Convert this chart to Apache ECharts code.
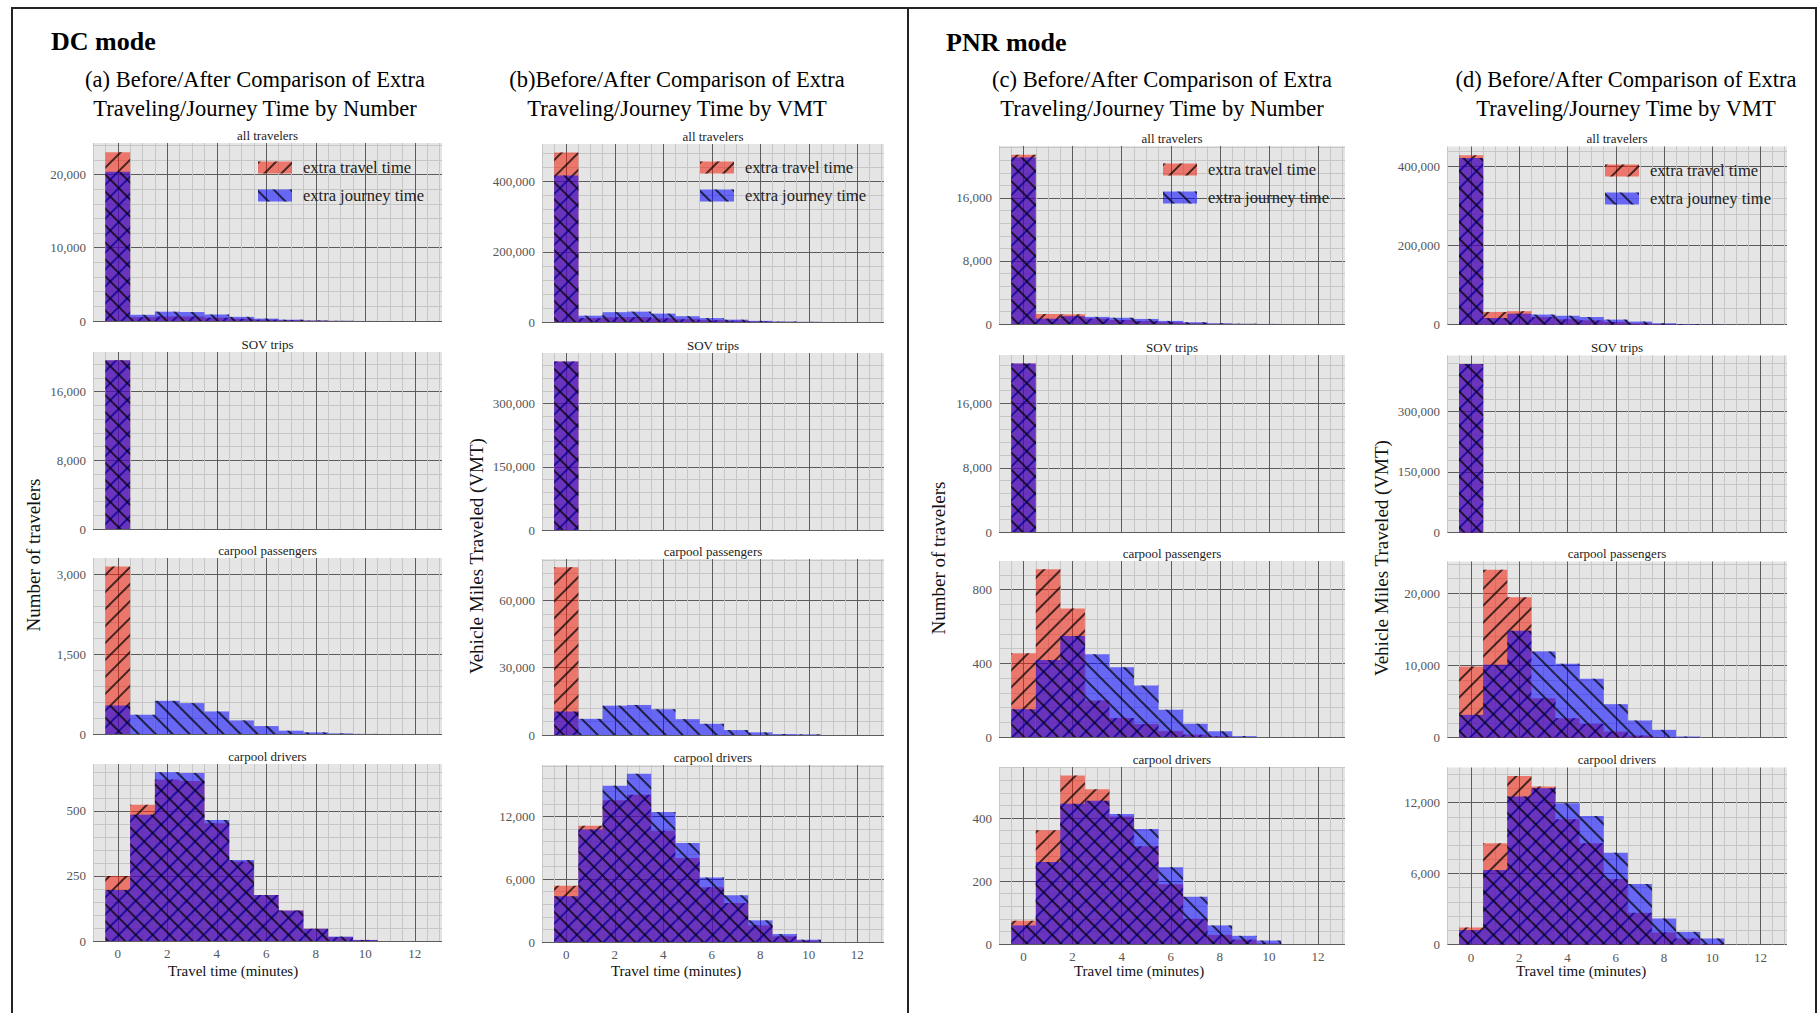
<!DOCTYPE html>
<html><head><meta charset="utf-8">
<script src="https://cdn.jsdelivr.net/npm/echarts@6/dist/echarts.min.js"></script>
<style>html,body{margin:0;padding:0;background:#fff}#chart{width:1820px;height:1013px}</style>
</head><body><div id="chart"></div>
<script>
// ---------- text ----------
const modeTitles = ['DC mode', 'PNR mode'];
const panelTitles = [
  '(a) Before/After Comparison of Extra\nTraveling/Journey Time by Number',
  '(b)Before/After Comparison of Extra\nTraveling/Journey Time by VMT',
  '(c) Before/After Comparison of Extra\nTraveling/Journey Time by Number',
  '(d) Before/After Comparison of Extra\nTraveling/Journey Time by VMT'
];
const rowTitles = ['all travelers', 'SOV trips', 'carpool passengers', 'carpool drivers'];
const yAxisTitles = ['Number of travelers', 'Vehicle Miles Traveled (VMT)', 'Number of travelers', 'Vehicle Miles Traveled (VMT)'];
const xAxisTitle = 'Travel time (minutes)';
const legendNames = ['extra travel time', 'extra journey time'];

// ---------- data (bins = travel time in minutes) ----------
const bins = [0, 1, 2, 3, 4, 5, 6, 7, 8, 9, 10];
const xTickLabels = [0, 2, 4, 6, 8, 10, 12];

// (a) DC mode, by number
const dcNumAllTravel   = [23030, 523, 620, 615, 452, 305, 177, 117, 47, 15, 4];
const dcNumAllJourney  = [20370, 846, 1270, 1224, 888, 566, 326, 179, 78, 29, 6];
const dcNumSovTravel   = [19640, 0, 0, 0, 0, 0, 0, 0, 0, 0, 0];
const dcNumSovJourney  = [19640, 0, 0, 0, 0, 0, 0, 0, 0, 0, 0];
const dcNumPassTravel  = [3140, 0, 0, 0, 0, 0, 0, 0, 0, 0, 0];
const dcNumPassJourney = [535, 361, 622, 579, 423, 255, 149, 62, 31, 12, 2];
const dcNumDrvTravel   = [250, 523, 620, 615, 452, 305, 177, 117, 47, 15, 4];
const dcNumDrvJourney  = [196, 485, 648, 645, 465, 311, 177, 117, 47, 17, 4];

// (b) DC mode, by VMT
const dcVmtAllTravel   = [483000, 11110, 13530, 14070, 10630, 8020, 5220, 3720, 1590, 540, 130];
const dcVmtAllJourney  = [417000, 17930, 28010, 29450, 23880, 16510, 11170, 6660, 3250, 1200, 510];
const dcVmtSovTravel   = [400000, 0, 0, 0, 0, 0, 0, 0, 0, 0, 0];
const dcVmtSovJourney  = [400000, 0, 0, 0, 0, 0, 0, 0, 0, 0, 0];
const dcVmtPassTravel  = [74700, 0, 0, 0, 0, 0, 0, 0, 0, 0, 0];
const dcVmtPassJourney = [10440, 7200, 13080, 13380, 11470, 7060, 5000, 2200, 1180, 440, 290];
const dcVmtDrvTravel   = [5380, 11110, 13530, 14070, 10630, 8020, 5220, 3720, 1590, 540, 130];
const dcVmtDrvJourney  = [4360, 10730, 14930, 16070, 12410, 9450, 6170, 4460, 2070, 760, 220];

// (c) PNR mode, by number
const pnrNumAllTravel   = [21500, 1271, 1232, 689, 508, 380, 222, 93, 33, 14, 2];
const pnrNumAllJourney  = [21150, 678, 993, 904, 791, 644, 392, 222, 90, 31, 11];
const pnrNumSovTravel   = [21000, 0, 0, 0, 0, 0, 0, 0, 0, 0, 0];
const pnrNumSovJourney  = [21000, 0, 0, 0, 0, 0, 0, 0, 0, 0, 0];
const pnrNumPassTravel  = [454, 910, 697, 198, 103, 70, 32, 13, 4, 0, 0];
const pnrNumPassJourney = [151, 418, 548, 449, 378, 279, 148, 72, 31, 5, 0];
const pnrNumDrvTravel   = [74, 361, 535, 491, 405, 310, 190, 80, 29, 14, 2];
const pnrNumDrvJourney  = [59, 260, 445, 455, 413, 365, 244, 150, 59, 26, 11];

// (d) PNR mode, by VMT
const pnrVmtAllTravel   = [428600, 31790, 33710, 18810, 13270, 10450, 6370, 2960, 1070, 510, 50];
const pnrVmtAllJourney  = [421700, 16370, 27290, 25140, 22160, 19000, 12390, 7470, 3260, 1210, 510];
const pnrVmtSovTravel   = [417300, 0, 0, 0, 0, 0, 0, 0, 0, 0, 0];
const pnrVmtSovJourney  = [417300, 0, 0, 0, 0, 0, 0, 0, 0, 0, 0];
const pnrVmtPassTravel  = [9840, 23230, 19450, 5450, 2680, 1890, 830, 280, 50, 0, 0];
const pnrVmtPassJourney = [3140, 10070, 14780, 11920, 10210, 8130, 4620, 2360, 1060, 140, 0];
const pnrVmtDrvTravel   = [1440, 8560, 14260, 13360, 10590, 8560, 5540, 2680, 1020, 510, 50];
const pnrVmtDrvJourney  = [1210, 6300, 12510, 13220, 11950, 10870, 7770, 5110, 2200, 1070, 510];

// y-axis upper limits and major tick steps (per column, per row)
const yMax = [
  [24300, 20600, 3300, 680],
  [507000, 420000, 78400, 16900],
  [22600, 22050, 955, 562],
  [451000, 438500, 24390, 14970]
];
const yMajor = [
  [10000, 8000, 1500, 250],
  [200000, 150000, 30000, 6000],
  [8000, 8000, 400, 200],
  [200000, 150000, 10000, 6000]
];

// ---------- assemble ----------
const panels = [
  [[dcNumAllTravel, dcNumAllJourney], [dcNumSovTravel, dcNumSovJourney], [dcNumPassTravel, dcNumPassJourney], [dcNumDrvTravel, dcNumDrvJourney]],
  [[dcVmtAllTravel, dcVmtAllJourney], [dcVmtSovTravel, dcVmtSovJourney], [dcVmtPassTravel, dcVmtPassJourney], [dcVmtDrvTravel, dcVmtDrvJourney]],
  [[pnrNumAllTravel, pnrNumAllJourney], [pnrNumSovTravel, pnrNumSovJourney], [pnrNumPassTravel, pnrNumPassJourney], [pnrNumDrvTravel, pnrNumDrvJourney]],
  [[pnrVmtAllTravel, pnrVmtAllJourney], [pnrVmtSovTravel, pnrVmtSovJourney], [pnrVmtPassTravel, pnrVmtPassJourney], [pnrVmtDrvTravel, pnrVmtDrvJourney]]
];

const FONT = "'Liberation Serif','Times New Roman','DejaVu Serif',serif";
const MAJOR = '#5c5c5c', MINOR = '#c6c6c6';
const RED = 'rgba(240,30,10,0.55)', BLUE = 'rgba(0,0,255,0.55)';
const hatchFwd = {symbol: 'rect', symbolSize: 1, color: 'rgba(0,0,0,0.7)', dashArrayX: [1, 0], dashArrayY: [1.3, 9.5], rotation: -Math.PI / 4};
const hatchBack = {symbol: 'rect', symbolSize: 1, color: 'rgba(0,0,0,0.7)', dashArrayX: [1, 0], dashArrayY: [1.3, 9.5], rotation: Math.PI / 4};

const colLeft = [93, 542, 999, 1447];
const colWidth = [349, 342, 346, 340];
const colDy = [0, 1, 3, 3.5];
const rowTop = [143, 352, 558, 764];
const rowHeight = [178, 177, 176, 177];
const panelCenter = [255, 677, 1162, 1626];
const xTitleCenter = [233, 676, 1139, 1581];
const yTitlePos = [[33, 555], [476, 556], [938, 558], [1381, 558]];
const legendPos = [[258, 159], [700, 159], [1163, 161], [1605, 162]];

const fmtThousands = v => String(v).replace(/\B(?=(\d{3})+(?!\d))/g, ',');

const grids = [], xAxes = [], yAxes = [], series = [];
const graphics = [
  {type: 'rect', shape: {x: 12, y: 8, width: 1804, height: 1030}, style: {fill: 'none', stroke: '#222', lineWidth: 2}, silent: true},
  {type: 'line', shape: {x1: 908, y1: 8, x2: 908, y2: 1013}, style: {stroke: '#222', lineWidth: 2}, silent: true},
  {type: 'text', x: 51, y: 41, style: {text: modeTitles[0], font: 'bold 26px ' + FONT, fill: '#000', textAlign: 'left', textVerticalAlign: 'middle'}},
  {type: 'text', x: 946, y: 42, style: {text: modeTitles[1], font: 'bold 26px ' + FONT, fill: '#000', textAlign: 'left', textVerticalAlign: 'middle'}}
];

for (let c = 0; c < 4; c++) {
  graphics.push({type: 'text', x: panelCenter[c], y: 94, style: {text: panelTitles[c], font: '22.5px ' + FONT, lineHeight: 29, fill: '#000', textAlign: 'center', textVerticalAlign: 'middle'}});
  graphics.push({type: 'text', x: yTitlePos[c][0], y: yTitlePos[c][1], rotation: Math.PI / 2, style: {text: yAxisTitles[c], font: '19px ' + FONT, fill: '#111', textAlign: 'center', textVerticalAlign: 'middle'}});
  graphics.push({type: 'text', x: xTitleCenter[c], y: 971, style: {text: xAxisTitle, font: '15px ' + FONT, fill: '#111', textAlign: 'center', textVerticalAlign: 'middle'}});
  for (let r = 0; r < 4; r++) {
    const idx = c * 4 + r;
    const top = rowTop[r] + colDy[c];
    grids.push({left: colLeft[c], top: top, width: colWidth[c], height: rowHeight[r], show: true,
      backgroundColor: '#e5e5e5', borderWidth: 0, containLabel: false, outerBoundsMode: 'none'});
    graphics.push({type: 'text', x: colLeft[c] + colWidth[c] / 2, y: top - 8,
      style: {text: rowTitles[r], font: '13px ' + FONT, fill: '#222', textAlign: 'center', textVerticalAlign: 'middle'}});
    xAxes.push({gridIndex: idx, type: 'value', min: -1, max: 13.1, interval: 0.5,
      axisLine: {show: false}, axisTick: {show: false},
      axisLabel: {show: r === 3, color: '#555', fontFamily: FONT, fontSize: 13, margin: 6,
        showMinLabel: true, showMaxLabel: false,
        formatter: v => (xTickLabels.indexOf(v) >= 0 ? String(v) : '')},
      splitLine: {show: true, showMaxLine: false, lineStyle: {color: [MINOR, MINOR, MAJOR, MINOR], width: 1}}
    });
    const major = yMajor[c][r];
    yAxes.push({gridIndex: idx, type: 'value', min: 0, max: yMax[c][r], interval: major / 5,
      axisLine: {show: false}, axisTick: {show: false},
      axisLabel: {color: '#555', fontFamily: FONT, fontSize: 13, margin: 7, showMaxLabel: false,
        formatter: v => (Math.abs(v / major - Math.round(v / major)) < 1e-6 ? fmtThousands(Math.round(v)) : '')},
      splitLine: {show: true, showMaxLine: false, lineStyle: {color: [MAJOR, MINOR, MINOR, MINOR, MINOR], width: 1}}
    });
    const pair = panels[c][r];
    series.push({type: 'bar', name: legendNames[0], xAxisIndex: idx, yAxisIndex: idx,
      data: bins.map((b, i) => [b, pair[0][i]]), barWidth: '100%', barGap: '-100%',
      itemStyle: {color: RED, decal: hatchFwd}, emphasis: {disabled: true}, animation: false});
    series.push({type: 'bar', name: legendNames[1], xAxisIndex: idx, yAxisIndex: idx,
      data: bins.map((b, i) => [b, pair[1][i]]), barWidth: '100%', barGap: '-100%',
      itemStyle: {color: BLUE, decal: hatchBack}, emphasis: {disabled: true}, animation: false});
  }
}

const legends = legendPos.map(p => ({
  orient: 'vertical', left: p[0], top: p[1], itemWidth: 34, itemHeight: 12, itemGap: 11, padding: 0,
  icon: 'rect', selectedMode: false, data: legendNames,
  textStyle: {fontFamily: FONT, fontSize: 16.5, color: '#222', padding: [0, 0, 0, 6]}
}));

const chart = echarts.init(document.getElementById('chart'), null, {renderer: 'svg', width: 1820, height: 1013});
chart.setOption({
  animation: false,
  backgroundColor: '#fff',
  aria: {enabled: true, decal: {show: true}},
  grid: grids, xAxis: xAxes, yAxis: yAxes, series: series,
  legend: legends, graphic: graphics, tooltip: {show: false}
});
</script></body></html>
